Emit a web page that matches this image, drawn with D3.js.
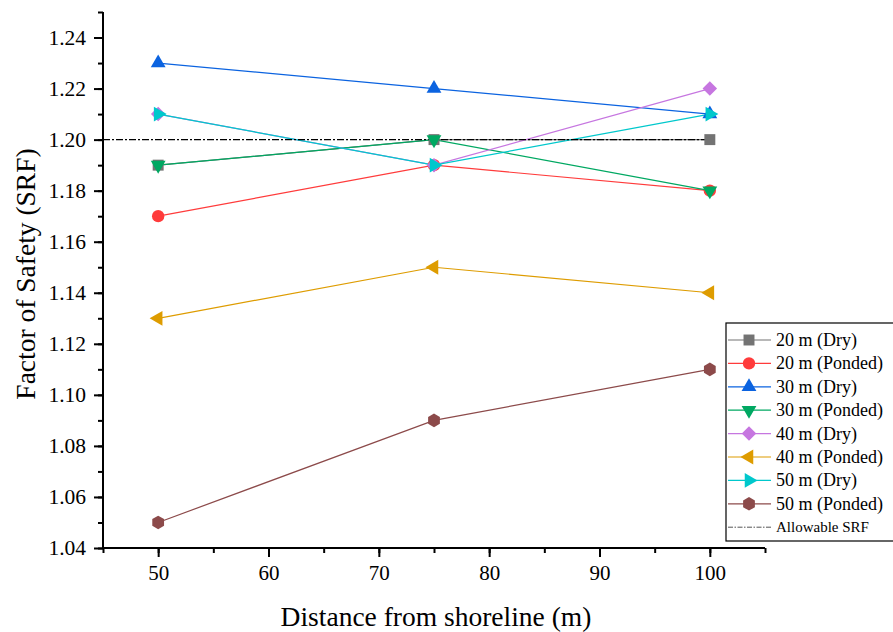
<!DOCTYPE html>
<html><head><meta charset="utf-8">
<script src="https://cdn.jsdelivr.net/npm/d3@7"></script>
<style>body{margin:0;background:#fff;} svg{display:block;} svg text{font-family:'Liberation Serif','Times New Roman',Times,'DejaVu Serif',serif;}</style>
</head><body>
<svg id="c" width="893" height="632"></svg>
<script>
const distances = [50, 75, 100];
const seriesNames = ["20 m (Dry)","20 m (Ponded)","30 m (Dry)","30 m (Ponded)","40 m (Dry)","40 m (Ponded)","50 m (Dry)","50 m (Ponded)"];
const dry20 = [1.19, 1.20, 1.20];
const ponded20 = [1.17, 1.19, 1.18];
const dry30 = [1.23, 1.22, 1.21];
const ponded30 = [1.19, 1.20, 1.18];
const dry40 = [1.21, 1.19, 1.22];
const ponded40 = [1.13, 1.15, 1.14];
const dry50 = [1.21, 1.19, 1.21];
const ponded50 = [1.05, 1.09, 1.11];
const allowableX = [45, 100];
const allowableSRF = 1.20;
const xTicks = [50, 60, 70, 80, 90, 100];
const yTicks = [1.04,1.06,1.08,1.10,1.12,1.14,1.16,1.18,1.20,1.22,1.24];

const seriesValues = [dry20, ponded20, dry30, ponded30, dry40, ponded40, dry50, ponded50];
const colors = ["#737373","#ff3b3b","#0b63e0","#00a862","#c676e0","#de9c00","#00c8cc","#8c4a4a"];

const hexagon = {draw(ctx, size){
  const r = Math.sqrt(size / (1.5*Math.sqrt(3)));
  for (let i=0;i<6;i++){const a = Math.PI/6 + i*Math.PI/3; const px=r*Math.cos(a), py=r*Math.sin(a); if(i===0) ctx.moveTo(px,py); else ctx.lineTo(px,py);}
  ctx.closePath();
}};
const markers = [
  {type:d3.symbolSquare, size:120, rot:0},
  {type:d3.symbolCircle, size:120, rot:0},
  {type:d3.symbolTriangle, size:95, rot:0},
  {type:d3.symbolTriangle, size:95, rot:180},
  {type:d3.symbolSquare, size:105, rot:45},
  {type:d3.symbolTriangle, size:95, rot:-90},
  {type:d3.symbolTriangle, size:95, rot:90},
  {type:hexagon, size:120, rot:0}
];

const svg = d3.select("#c");
const L=103, R=765, T=12, B=548;
const x = d3.scaleLinear().domain([45,105]).range([L,R]);
const y = d3.scaleLinear().domain([1.04,1.25]).range([B,T]);

// Axes
const xAxisMinor = d3.axisBottom(x).tickValues(d3.range(45,106,5)).tickSize(5).tickFormat("");
const xAxis = d3.axisBottom(x).tickValues(xTicks).tickSize(9).tickPadding(8).tickFormat(d3.format("d"));
const yAxisMinor = d3.axisLeft(y).tickValues(d3.range(104,126,1).map(v=>v/100)).tickSize(5).tickFormat("");
const yAxis = d3.axisLeft(y).tickValues(yTicks).tickSize(9).tickPadding(8).tickFormat(d3.format(".2f"));

function styleAxis(g, fs){
  g.attr("font-family",null);
  g.select(".domain").attr("stroke","#000").attr("stroke-width",2);
  g.selectAll(".tick line").attr("stroke","#000").attr("stroke-width",2);
  g.selectAll(".tick text").attr("fill","#000").style("font-size",fs+"px");
}
svg.append("g").attr("transform",`translate(0,${B})`).call(xAxisMinor).call(g=>{g.select(".domain").attr("d",`M${L},0H${R}`);styleAxis(g,21);});
svg.append("g").attr("transform",`translate(0,${B})`).call(xAxis).call(g=>{g.select(".domain").remove();styleAxis(g,21);});
svg.append("g").attr("transform",`translate(${L},0)`).call(yAxisMinor).call(g=>{g.select(".domain").attr("d",`M0,${T}V${B}`);styleAxis(g,21.5);});
svg.append("g").attr("transform",`translate(${L},0)`).call(yAxis).call(g=>{g.select(".domain").remove();styleAxis(g,21.5);});

// Lines
const line = d3.line().x((d,i)=>x(distances[i])).y(d=>y(d));
seriesValues.forEach((vals,k)=>{
  svg.append("path").attr("d",line(vals)).attr("fill","none").attr("stroke",colors[k]).attr("stroke-width",1.2);
});
// Allowable line
svg.append("line").attr("x1",x(allowableX[0])).attr("x2",x(allowableX[1]))
  .attr("y1",y(allowableSRF)).attr("y2",y(allowableSRF))
  .attr("stroke","#000").attr("stroke-width",1.2).attr("stroke-dasharray","7,2,2,2");
// Markers
seriesValues.forEach((vals,k)=>{
  const m = markers[k];
  const sym = d3.symbol().type(m.type).size(m.size);
  svg.append("g").selectAll("path").data(vals).join("path")
    .attr("d",sym())
    .attr("transform",(d,i)=>`translate(${x(distances[i])},${y(d)}) rotate(${m.rot})`)
    .attr("fill",colors[k]);
});

// Axis titles
svg.append("text").attr("x",436).attr("y",626).attr("text-anchor","middle")
  .style("font-size","27.5px").attr("fill","#000").text("Distance from shoreline (m)");
svg.append("text").attr("transform",`translate(35,274) rotate(-90)`).attr("text-anchor","middle")
  .style("font-size","27.5px").attr("fill","#000").text("Factor of Safety (SRF)");

// Legend
const lg = svg.append("g");
const lx = 726, ly = 323, rowH = 23.4;
lg.append("rect").attr("x",lx).attr("y",ly).attr("width",200).attr("height",218)
  .attr("fill","#fff").attr("stroke","#000").attr("stroke-width",1.2);
seriesNames.forEach((name,k)=>{
  const cy = ly + 17 + k*rowH;
  lg.append("line").attr("x1",lx+2).attr("x2",lx+45).attr("y1",cy).attr("y2",cy).attr("stroke",colors[k]).attr("stroke-width",1.2);
  const m = markers[k];
  lg.append("path").attr("d",d3.symbol().type(m.type).size(m.size)()).attr("transform",`translate(${lx+23},${cy}) rotate(${m.rot})`).attr("fill",colors[k]);
  lg.append("text").attr("x",lx+50).attr("y",cy+6).style("font-size","18px").attr("fill","#000").text(name);
});
const cyA = ly + 17 + 8*rowH;
lg.append("line").attr("x1",lx+2).attr("x2",lx+45).attr("y1",cyA).attr("y2",cyA).attr("stroke","#555").attr("stroke-width",1).attr("stroke-dasharray","5,1.5,1.5,1.5");
lg.append("text").attr("x",lx+50).attr("y",cyA+5).style("font-size","15px").attr("fill","#000").text("Allowable SRF");
</script>
</body></html>
